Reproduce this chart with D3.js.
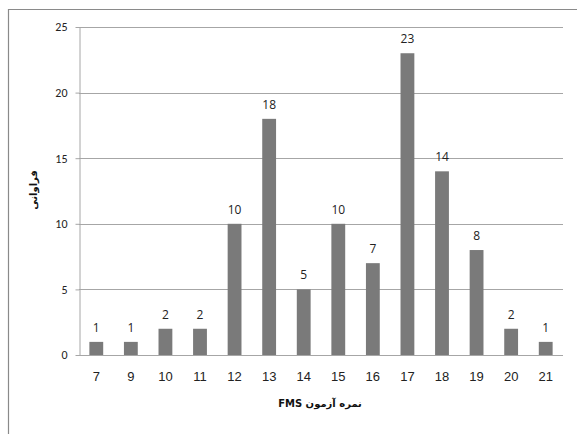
<!DOCTYPE html>
<html><head><meta charset="utf-8">
<script src="https://cdn.jsdelivr.net/npm/d3@7"></script>
<style>body{margin:0;background:#fff}svg{display:block}</style>
</head><body>
<script>
const categories = ["7","9","10","11","12","13","14","15","16","17","18","19","20","21"];
const values = [1,1,2,2,10,18,5,10,7,23,14,8,2,1];
const yTicks = [0,5,10,15,20,25];
const xTitle = "نمره آزمون FMS";
const yTitle = "فراوانی";

const W = 577, H = 434;
const svg = d3.select("body").append("svg").attr("width", W).attr("height", H);

// outer frame
svg.append("path").attr("d", `M8.5,${H} V9.5 H${W}`).attr("fill","none").attr("stroke","#8a8a8a").attr("stroke-width",1.2);

const m = {left:79, right:563, top:27, bottom:355};
const x = d3.scaleBand().domain(categories).range([m.left, m.right]).paddingInner(0.6).paddingOuter(0.3);
const y = d3.scaleLinear().domain([0,25]).range([m.bottom, m.top]);

// gridlines
svg.append("g").selectAll("line").data(yTicks.filter(d=>d>0)).join("line")
  .attr("x1", m.left).attr("x2", m.right)
  .attr("y1", d=>Math.round(y(d))+0.5).attr("y2", d=>Math.round(y(d))+0.5)
  .attr("stroke","#a6a6a6").attr("stroke-width",1);

// y axis
const ya = svg.append("g").attr("transform",`translate(${m.left+0.5},0)`)
  .call(d3.axisLeft(y).tickValues(yTicks).tickSize(4).tickPadding(8).tickSizeOuter(0));
ya.select(".domain").attr("stroke","#a6a6a6");
ya.selectAll(".tick line").attr("stroke","#a6a6a6");
ya.selectAll("text").attr("font-family","Carlito, 'Open Sans', sans-serif").attr("font-size",12).attr("fill","#222");

// bars
svg.append("g").selectAll("rect").data(values).join("rect")
  .attr("x",(d,i)=>x(categories[i])).attr("width",x.bandwidth())
  .attr("y",d=>y(d)).attr("height",d=>y(0)-y(d)).attr("fill","#7a7a7a");

// x axis
const xa = svg.append("g").attr("transform",`translate(0,${m.bottom+0.5})`)
  .call(d3.axisBottom(x).tickSize(0).tickPadding(16).tickSizeOuter(0));
xa.select(".domain").attr("stroke","#a6a6a6").attr("d",`M${m.left},0H${m.right}`);
xa.selectAll("text").attr("font-family","'Liberation Sans', Arial, sans-serif").attr("font-size",13).attr("fill","#222");

// data labels
svg.append("g").selectAll("text").data(values).join("text")
  .attr("x",(d,i)=>x(categories[i])+x.bandwidth()/2).attr("y",d=>y(d)-10)
  .attr("text-anchor","middle").attr("font-family","'Open Sans', sans-serif").attr("font-size",12).attr("fill","#222")
  .text(d=>d);

// titles
svg.append("text").attr("x",320).attr("y",407).attr("text-anchor","middle")
  .attr("font-family","'DejaVu Sans', sans-serif").attr("font-weight","bold").attr("font-size",10).attr("fill","#111")
  .attr("direction","rtl").text(xTitle);
svg.append("text").attr("transform","translate(37,190) rotate(-90)").attr("text-anchor","middle")
  .attr("font-family","'DejaVu Sans', sans-serif").attr("font-weight","bold").attr("font-size",10).attr("fill","#111")
  .text(yTitle);
</script>
</body></html>
